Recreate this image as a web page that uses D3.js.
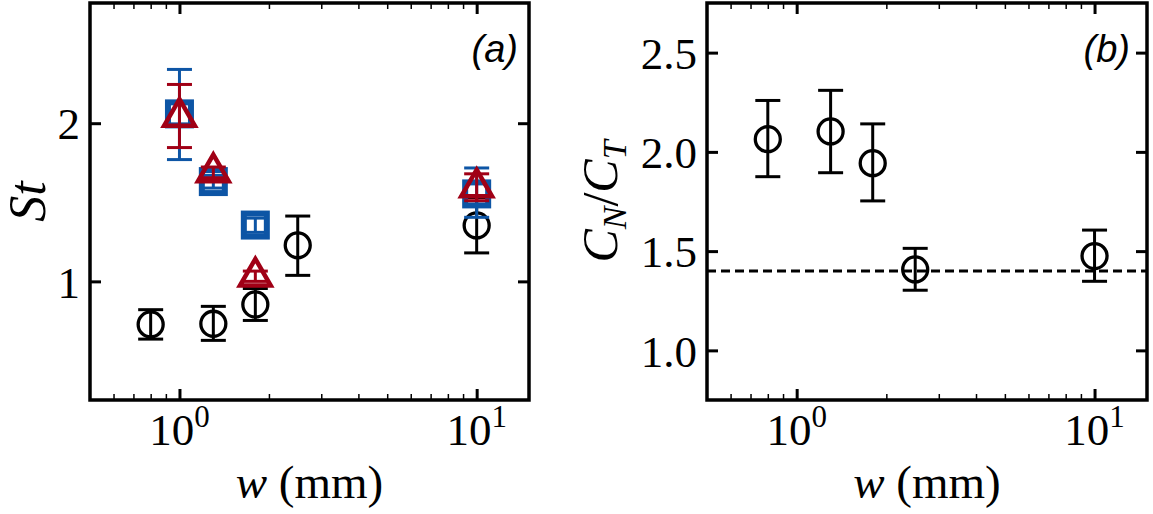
<!DOCTYPE html>
<html lang="en">
<head>
<meta charset="UTF-8">
<title>St and CN/CT versus w</title>
<style>
  body { margin: 0; background: #fff; }
  svg { display: block; }
  .serif { font-family: "Liberation Serif", "DejaVu Serif", serif; fill: #000; }
  .tag { font-family: "Liberation Sans", Arial, sans-serif; font-style: italic; fill: #000; }
</style>
</head>
<body>
<svg width="1153" height="514"></svg>
<script src="https://cdn.jsdelivr.net/npm/d3@7"></script>
<script>
// shared x axis (log)
const xDomain = [0.5, 15];
const xTicksMajor = [1, 10];
const xTicksMinor = [0.6, 0.7, 0.8, 0.9, 2, 3, 4, 5, 6, 7, 8, 9];

// panel (a): St
const stDomain = [0.25, 2.76];
const stTicks = [1, 2];

const circW = [0.8, 1.3, 1.8, 2.5, 10];
const circSt = [0.728, 0.732, 0.854, 1.228, 1.354];
const circStLo = [0.635, 0.627, 0.753, 1.038, 1.18];
const circStHi = [0.821, 0.842, 0.955, 1.413, 1.53];

const sqW = [1.0, 1.3, 1.8, 10];
const sqSt = [2.059, 1.631, 1.356, 1.553];
const sqStLo = [1.77, 1.59, 1.31, 1.405];
const sqStHi = [2.34, 1.67, 1.40, 1.717];

const triW = [1.0, 1.3, 1.8, 10];
const triSt = [2.046, 1.696, 1.036, 1.60];
const triStLo = [1.846, 1.655, 1.0, 1.51];
const triStHi = [2.245, 1.723, 1.065, 1.68];

// panel (b): CN/CT
const ratioDomain = [0.75, 2.75];
const ratioTicks = [1.0, 1.5, 2.0, 2.5];
const ratioW = [0.8, 1.3, 1.8, 2.5, 10];
const ratio = [2.064, 2.103, 1.943, 1.408, 1.475];
const ratioLo = [1.875, 1.895, 1.753, 1.303, 1.348];
const ratioHi = [2.259, 2.31, 2.141, 1.514, 1.606];
const ratioRef = 1.4;

const blue = '#0d55a5';
const red = '#a00016';

const svg = d3.select('svg');
const yTop = 3, yBottom = 400;

function panel(left, right, yDomain, yTicks, yFmt) {
    const g = svg.append('g');
    const x = d3.scaleLog().domain(xDomain).range([left, right]);
    const y = d3.scaleLinear().domain(yDomain).range([yBottom, yTop]);

    const tickStyle = (sel, w) => {
        sel.select('.domain').remove();
        sel.selectAll('.tick line').attr('stroke', '#000').attr('stroke-width', w);
        sel.selectAll('.tick text').remove();
    };

    // minor + major ticks, bottom and top, pointing inward
    g.append('g').attr('transform', `translate(0,${yBottom})`)
        .call(d3.axisBottom(x).tickValues(xTicksMinor).tickSize(-6)).call(tickStyle, 1.5);
    g.append('g').attr('transform', `translate(0,${yBottom})`)
        .call(d3.axisBottom(x).tickValues(xTicksMajor).tickSize(-11)).call(tickStyle, 3);
    g.append('g').attr('transform', `translate(0,${yTop})`)
        .call(d3.axisTop(x).tickValues(xTicksMinor).tickSize(-6)).call(tickStyle, 1.5);
    g.append('g').attr('transform', `translate(0,${yTop})`)
        .call(d3.axisTop(x).tickValues(xTicksMajor).tickSize(-11)).call(tickStyle, 3);
    g.append('g').attr('transform', `translate(${left},0)`)
        .call(d3.axisLeft(y).tickValues(yTicks).tickSize(-11)).call(tickStyle, 3);
    g.append('g').attr('transform', `translate(${right},0)`)
        .call(d3.axisRight(y).tickValues(yTicks).tickSize(-11)).call(tickStyle, 3);

    // x tick labels 10^n
    const xl = g.selectAll('text.xl').data(xTicksMajor).enter().append('text')
        .attr('class', 'serif xl')
        .attr('x', d => x(d))
        .attr('y', 445)
        .attr('text-anchor', 'middle')
        .style('font-size', '45px');
    xl.append('tspan').text('10');
    xl.append('tspan').attr('dy', -18).style('font-size', '31px')
        .text(d => Math.round(Math.log10(d)));

    // y tick labels
    g.selectAll('text.yl').data(yTicks).enter().append('text')
        .attr('class', 'serif yl')
        .attr('x', left - 10)
        .attr('y', d => y(d))
        .attr('dy', '0.36em')
        .attr('text-anchor', 'end')
        .style('font-size', '45px')
        .text(yFmt);

    // x label
    const lab = g.append('text').attr('class', 'serif')
        .attr('x', (left + right) / 2)
        .attr('y', 498)
        .attr('text-anchor', 'middle')
        .style('font-size', '47px');
    lab.append('tspan').style('font-style', 'italic').text('w');
    lab.append('tspan').text(' (mm)');

    return { g, x, y };
}

function errorBars(g, x, y, ws, lo, hi, color) {
    const cap = 12.5;
    const eb = g.append('g').attr('stroke', color).attr('stroke-width', 3).attr('fill', 'none');
    eb.selectAll('line.v').data(ws).enter().append('line')
        .attr('x1', d => x(d)).attr('x2', d => x(d))
        .attr('y1', (d, i) => y(lo[i])).attr('y2', (d, i) => y(hi[i]));
    eb.selectAll('line.lo').data(ws).enter().append('line')
        .attr('x1', d => x(d) - cap).attr('x2', d => x(d) + cap)
        .attr('y1', (d, i) => y(lo[i])).attr('y2', (d, i) => y(lo[i]));
    eb.selectAll('line.hi').data(ws).enter().append('line')
        .attr('x1', d => x(d) - cap).attr('x2', d => x(d) + cap)
        .attr('y1', (d, i) => y(hi[i])).attr('y2', (d, i) => y(hi[i]));
}

function circles(g, x, y, ws, vals) {
    g.append('g').selectAll('circle').data(ws).enter().append('circle')
        .attr('cx', d => x(d))
        .attr('cy', (d, i) => y(vals[i]))
        .attr('r', 12.5)
        .attr('fill', 'none')
        .attr('stroke', '#000')
        .attr('stroke-width', 3.3);
}

// ---------- panel (a)
const A = panel(90, 529, stDomain, stTicks, d => d);

errorBars(A.g, A.x, A.y, circW, circStLo, circStHi, '#000');
circles(A.g, A.x, A.y, circW, circSt);

errorBars(A.g, A.x, A.y, sqW, sqStLo, sqStHi, blue);
A.g.append('g').selectAll('rect').data(sqW).enter().append('rect')
    .attr('x', d => A.x(d) - 11.5)
    .attr('y', (d, i) => A.y(sqSt[i]) - 11.5)
    .attr('width', 23).attr('height', 23)
    .attr('fill', 'none')
    .attr('stroke', blue)
    .attr('stroke-width', 6);

errorBars(A.g, A.x, A.y, triW, triStLo, triStHi, red);
const tri = d3.symbol().type(d3.symbolTriangle).size(410);
A.g.append('g').selectAll('path').data(triW).enter().append('path')
    .attr('d', tri)
    .attr('transform', (d, i) => `translate(${A.x(d)},${A.y(triSt[i]) + 1})`)
    .attr('fill', 'none')
    .attr('stroke', red)
    .attr('stroke-width', 4.5)
    .attr('stroke-linejoin', 'miter');

A.g.append('rect').attr('x', 90).attr('y', yTop).attr('width', 529 - 90).attr('height', yBottom - yTop)
    .attr('fill', 'none').attr('stroke', '#000').attr('stroke-width', 3.5);

A.g.append('text').attr('class', 'tag')
    .attr('x', 518).attr('y', 62).attr('text-anchor', 'end')
    .style('font-size', '38px').text('(a)');

const stLab = svg.append('text').attr('class', 'serif')
    .attr('transform', `translate(45,${(yTop + yBottom) / 2}) rotate(-90)`)
    .attr('text-anchor', 'middle')
    .style('font-size', '52px')
    .style('font-style', 'italic');
stLab.append('tspan').text('St');

// ---------- panel (b)
const B = panel(707, 1147, ratioDomain, ratioTicks, d3.format('.1f'));

B.g.append('line')
    .attr('x1', 707).attr('x2', 1147)
    .attr('y1', B.y(ratioRef)).attr('y2', B.y(ratioRef))
    .attr('stroke', '#000').attr('stroke-width', 3)
    .attr('stroke-dasharray', '9,5');

errorBars(B.g, B.x, B.y, ratioW, ratioLo, ratioHi, '#000');
circles(B.g, B.x, B.y, ratioW, ratio);

B.g.append('rect').attr('x', 707).attr('y', yTop).attr('width', 1147 - 707).attr('height', yBottom - yTop)
    .attr('fill', 'none').attr('stroke', '#000').attr('stroke-width', 3.5);

B.g.append('text').attr('class', 'tag')
    .attr('x', 1130).attr('y', 62).attr('text-anchor', 'end')
    .style('font-size', '38px').text('(b)');

const cLab = svg.append('text').attr('class', 'serif')
    .attr('transform', `translate(617,${(yTop + yBottom) / 2}) rotate(-90)`)
    .attr('text-anchor', 'middle')
    .style('font-size', '50px');
cLab.append('tspan').style('font-style', 'italic').text('C');
cLab.append('tspan').attr('dy', 9).style('font-size', '34px').style('font-style', 'italic').text('N');
cLab.append('tspan').attr('dy', -9).text('/');
cLab.append('tspan').style('font-style', 'italic').text('C');
cLab.append('tspan').attr('dy', 9).style('font-size', '34px').style('font-style', 'italic').text('T');
</script>
</body>
</html>
